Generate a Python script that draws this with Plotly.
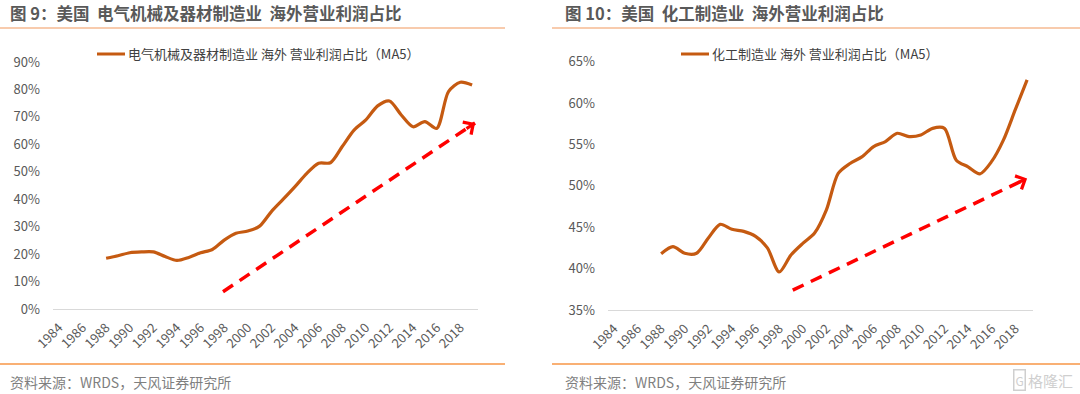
import plotly.graph_objects as go

# ---------------- data ----------------
years = list(range(1988, 2020))
elec_share = [18.5, 19.4, 20.5, 20.8, 20.8, 19.1, 17.7, 18.8, 20.5, 21.7,
              25.1, 27.6, 28.4, 30.2, 35.5, 40.0, 44.6, 49.4, 53.1, 53.3,
              59.2, 65.2, 68.9, 74.0, 75.8, 70.7, 66.4, 68.3, 65.8, 79.2,
              82.6, 81.6]
chem_share = [41.8, 42.65, 41.85, 41.85, 43.7, 45.35, 44.75, 44.5, 43.9, 42.5,
              39.6, 41.65, 43.05, 44.3, 47.1, 51.5, 52.7, 53.5, 54.75, 55.35,
              56.35, 55.95, 56.15, 56.95, 56.95, 53.1, 52.3, 51.45, 52.95, 55.55,
              59.2, 62.8]
tick_years = list(range(1984, 2019, 2))
left_yticks = [0, 10, 20, 30, 40, 50, 60, 70, 80, 90]
right_yticks = [35, 40, 45, 50, 55, 60, 65]
# trend arrows (start/end in data units: year, percent)
left_arrow_x = [1997.9, 2019.25]
left_arrow_y = [6.3, 67.8]
right_arrow_x = [1999.15, 2019.0]
right_arrow_y = [37.4, 50.9]

title_left = "图 9：美国  电气机械及器材制造业  海外营业利润占比"
title_right = "图 10：美国  化工制造业  海外营业利润占比"
legend_left = "电气机械及器材制造业 海外 营业利润占比（MA5）"
legend_right = "化工制造业 海外 营业利润占比（MA5）"
source_text = "资料来源：WRDS，天风证券研究所"

# ---------------- style ----------------
W, H = 1080, 394
FONT = "Noto Sans CJK SC"
LINE_C = "#C55A11"
TXT = "#595959"

def px(x):
    return x / W

def py(y):
    return (H - y) / H

fig = go.Figure()

fig.add_trace(go.Scatter(x=years, y=elec_share, mode="lines",
                         line=dict(color=LINE_C, width=3.2, shape="spline", smoothing=0.8),
                         xaxis="x", yaxis="y", showlegend=False))
fig.add_trace(go.Scatter(x=years, y=chem_share, mode="lines",
                         line=dict(color=LINE_C, width=3.2, shape="spline", smoothing=0.8),
                         xaxis="x2", yaxis="y2", showlegend=False))

# dashed trend lines
fig.add_trace(go.Scatter(x=left_arrow_x, y=left_arrow_y, mode="lines",
                         line=dict(color="#FF0000", width=3.5, dash="12px,8px"),
                         xaxis="x", yaxis="y", showlegend=False, hoverinfo="skip"))
fig.add_trace(go.Scatter(x=right_arrow_x, y=right_arrow_y, mode="lines",
                         line=dict(color="#FF0000", width=3.5, dash="12px,8px"),
                         xaxis="x2", yaxis="y2", showlegend=False, hoverinfo="skip"))

xcommon = dict(range=[1983.5, 2019.5], tickvals=tick_years,
               ticktext=[str(t) for t in tick_years], tickangle=-45,
               showgrid=False, zeroline=False, showline=True, linecolor="#D9D9D9",
               linewidth=1, ticks="", ticklabelstandoff=5,
               tickfont=dict(family=FONT, size=13, color=TXT))
ycommon = dict(showgrid=False, zeroline=False, showline=False, ticks="",
               ticklabelstandoff=12, tickfont=dict(family=FONT, size=13, color=TXT))
fig.update_layout(
    width=W, height=H, margin=dict(l=0, r=0, t=0, b=0, pad=0, autoexpand=False),
    paper_bgcolor="white", plot_bgcolor="white",
    font=dict(family=FONT, color=TXT),
    xaxis=dict(domain=[px(53), px(478)], anchor="y", **xcommon),
    xaxis2=dict(domain=[px(608), px(1033)], anchor="y2", **xcommon),
    yaxis=dict(domain=[py(309), py(62)], range=[0, 90], anchor="x",
               tickvals=left_yticks, ticktext=[f"{v}%" for v in left_yticks], **ycommon),
    yaxis2=dict(domain=[py(310), py(61.7)], range=[35, 65], anchor="x2",
                tickvals=right_yticks, ticktext=[f"{v}%" for v in right_yticks], **ycommon),
)

annotations = []
shapes = []

# arrowheads
for xs, ys, xa, ya in [(left_arrow_x, left_arrow_y, "x", "y"),
                       (right_arrow_x, right_arrow_y, "x2", "y2")]:
    dx = xs[1] - xs[0]
    dy = ys[1] - ys[0]
    annotations.append(dict(x=xs[1], y=ys[1], xref=xa, yref=ya,
                            ax=xs[1] - dx * 0.04, ay=ys[1] - dy * 0.04,
                            axref=xa, ayref=ya, showarrow=True, arrowhead=4,
                            arrowsize=0.9, arrowwidth=3.2, arrowcolor="#FF0000", text=""))

# titles
annotations.append(dict(x=px(8), y=py(13), xref="paper", yref="paper", xanchor="left",
                        yanchor="middle", showarrow=False, text=f"<b>{title_left}</b>",
                        font=dict(family=FONT, size=16.5, color="#595959")))
annotations.append(dict(x=px(563), y=py(13), xref="paper", yref="paper", xanchor="left",
                        yanchor="middle", showarrow=False, text=f"<b>{title_right}</b>",
                        font=dict(family=FONT, size=16.5, color="#595959")))
# sources
annotations.append(dict(x=px(8), y=py(382), xref="paper", yref="paper", xanchor="left",
                        yanchor="middle", showarrow=False, text=source_text,
                        font=dict(family=FONT, size=14, color="#7F7F7F")))
annotations.append(dict(x=px(563), y=py(382), xref="paper", yref="paper", xanchor="left",
                        yanchor="middle", showarrow=False, text=source_text,
                        font=dict(family=FONT, size=14, color="#7F7F7F")))
# legends
annotations.append(dict(x=px(126), y=py(54), xref="paper", yref="paper", xanchor="left",
                        yanchor="middle", showarrow=False, text=legend_left,
                        font=dict(family=FONT, size=13, color="#404040")))
annotations.append(dict(x=px(710), y=py(54), xref="paper", yref="paper", xanchor="left",
                        yanchor="middle", showarrow=False, text=legend_right,
                        font=dict(family=FONT, size=13, color="#404040")))
shapes.append(dict(type="line", xref="paper", yref="paper", x0=px(97), x1=px(125),
                   y0=py(54), y1=py(54), line=dict(color=LINE_C, width=3)))
shapes.append(dict(type="line", xref="paper", yref="paper", x0=px(681), x1=px(709),
                   y0=py(54), y1=py(54), line=dict(color=LINE_C, width=3)))

# separator lines
shapes.append(dict(type="line", xref="paper", yref="paper", x0=0, x1=px(505),
                   y0=py(28), y1=py(28), line=dict(color="#F8CBAD", width=2)))
shapes.append(dict(type="line", xref="paper", yref="paper", x0=px(552), x1=1,
                   y0=py(28), y1=py(28), line=dict(color="#F8CBAD", width=2)))
shapes.append(dict(type="line", xref="paper", yref="paper", x0=0, x1=px(505),
                   y0=py(364), y1=py(364), line=dict(color="#F79646", width=1.5)))
shapes.append(dict(type="line", xref="paper", yref="paper", x0=px(552), x1=1,
                   y0=py(364), y1=py(364), line=dict(color="#F79646", width=1.5)))

# watermark
annotations.append(dict(x=px(1075), y=py(380), xref="paper", yref="paper", xanchor="right",
                        yanchor="middle", showarrow=False, text="格隆汇",
                        font=dict(family=FONT, size=15, color="#CFCFCF")))
annotations.append(dict(x=px(1026), y=py(380), xref="paper", yref="paper", xanchor="right",
                        yanchor="middle", showarrow=False, text="G",
                        bordercolor="#CFCFCF", borderwidth=1.5, borderpad=1,
                        font=dict(family=FONT, size=12, color="#CFCFCF")))

fig.update_layout(annotations=annotations, shapes=shapes)
fig.write_html("out.html", config={"displayModeBar": False},
               post_script="document.body.style.margin='0';document.body.style.overflow='hidden';")
